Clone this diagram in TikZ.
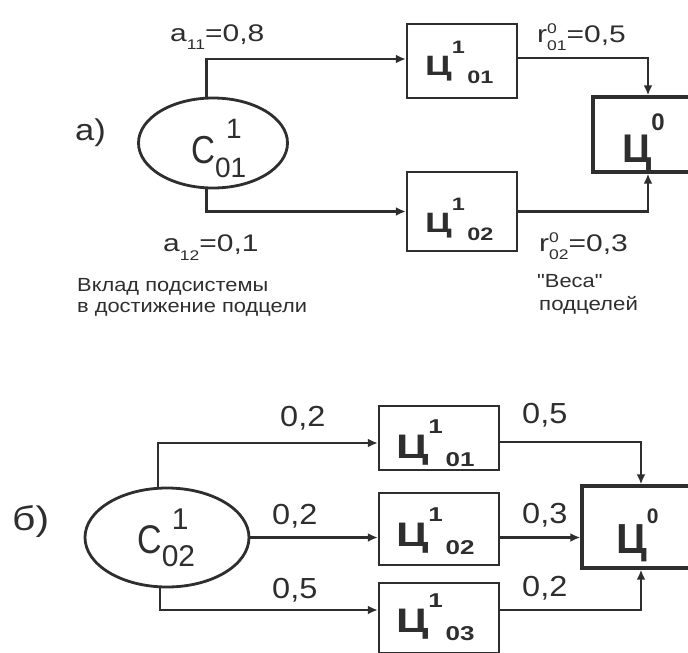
\documentclass[tikz,border=0pt]{standalone}
\usepackage{fontspec}
\setmainfont{Liberation Sans}
\usetikzlibrary{arrows.meta,calc,shapes.geometric}
\definecolor{ink}{HTML}{2E2E2E}
\newcommand\fs[1]{\fontsize{#1}{#1}\selectfont}
\newcommand\wide[2]{\scalebox{#1}[1]{#2}}
% goal label: #1 size of Ц, #2 index size, #3 raise, #4 lower, #5 sup, #6 sub
\newcommand\goalLabel[6]{\wide{1.3}{{\fs{#1}\bfseries Ц}\raisebox{#3}{\fs{#2}\bfseries #5}\hspace{2pt}\raisebox{-#4}{\fs{#2}\bfseries #6}}}
% system label: #1 size of C, #2 index size, #3 raise, #4 lower, #5 sup shift, #6 sup, #7 sub
\newcommand\sysLabel[7]{\wide{0.85}{\fs{#1}C}\rlap{\hspace{#5}\raisebox{#3}{\fs{#2}#6}}\raisebox{-#4}{\fs{#2}#7}}
\tikzset{
  goalbox/.style={draw=ink, line width=2.4pt, inner sep=0pt},
  topbox/.style={draw=ink, line width=3.4pt, inner sep=0pt},
  sysell/.style={draw=ink, line width=2.8pt, ellipse, inner sep=0pt},
  conn/.style={draw=ink, line width=2.3pt, -{Latex[length=10pt,width=9pt]}},
  txt/.style={text=ink, inner sep=0pt, anchor=base west},
}
\begin{document}
\begin{tikzpicture}[x=1pt,y=-1pt]
\useasboundingbox (0,0) rectangle (688,653);
\fill[white] (0,0) rectangle (688,653);

% ---------- part a) ----------
\node[sysell, minimum width=149pt, minimum height=90pt] (eA) at (213,143) {};
\node[goalbox, minimum width=110pt, minimum height=74pt] (A1) at (462,61) {};
\node[goalbox, minimum width=110pt, minimum height=79pt] (A2) at (462,211.5) {};
\node[topbox, minimum width=110pt, minimum height=75pt] (A0) at (648,134.5) {};

\draw[conn] (eA.98) |- ([yshift=2pt]A1.west);
\draw[conn] (eA.262) |- (A2.west);
\draw[conn] ([yshift=3pt]A1.east) -| (A0.north);
\draw[conn] (A2.east) -| (A0.south);

\node[txt] (la) at (75,140) {\wide{1.15}{\fs{30}a)}};
\node[txt] (teA) at (191,163) {\sysLabel{39}{28}{25pt}{14pt}{11pt}{1}{01}};
\node[txt] (tA1) at (425,75) {\goalLabel{28}{18}{22pt}{8pt}{1}{01}};
\node[txt] (tA2) at (425,232) {\goalLabel{28}{18}{22pt}{8pt}{1}{02}};
\node[txt] (tA0) at (622,162) {{\fs{40}\bfseries Ц}\raisebox{32pt}{\fs{24}\bfseries 0}};

\node[txt] (a11) at (170,41) {\wide{1.25}{\fs{24}a\raisebox{-8pt}{\fs{14}11}=0,8}};
\node[txt] (a12) at (163,251) {\wide{1.25}{\fs{24}a\raisebox{-9pt}{\fs{14}12}=0,1}};
\node[txt] (r01) at (537,42) {\wide{1.25}{\fs{24}r\rlap{\raisebox{9pt}{\fs{14}0}}\raisebox{-8pt}{\fs{14}01}=0,5}};
\node[txt] (r02) at (539,251) {\wide{1.25}{\fs{24}r\rlap{\raisebox{9pt}{\fs{14}0}}\raisebox{-8pt}{\fs{14}02}=0,3}};

\node[txt] (d1) at (77,291) {\wide{1.15}{\fs{19}Вклад подсистемы}};
\node[txt] (d2) at (77,312) {\wide{1.15}{\fs{19}в достижение подцели}};
\node[txt] (w1) at (537,287) {\wide{1.15}{\fs{19}\addfontfeatures{Ligatures=TeXOff}"Веса"}};
\node[txt] (w2) at (539,310) {\wide{1.17}{\fs{19}подцелей}};

% ---------- part b) ----------
\node[sysell, minimum width=164pt, minimum height=99pt] (eB) at (167,537.5) {};
\node[goalbox, minimum width=120pt, minimum height=64pt] (B1) at (439,438) {};
\node[goalbox, minimum width=120pt, minimum height=72pt] (B2) at (439,529) {};
\node[goalbox, minimum width=120pt, minimum height=70pt] (B3) at (439,618) {};
\node[topbox, minimum width=118pt, minimum height=82pt] (B0) at (641,527) {};

\draw[conn] (eB.100) |- ([yshift=-5pt]B1.west);
\draw[conn] (eB.east) -- (eB.east -| B2.west);
\draw[conn] (eB.262) |- ([yshift=8pt]B3.west);
\draw[conn] ([yshift=-4pt]B1.east) -| (B0.north);
\draw[conn] (B2.east |- eB.east) -- (B0.west |- eB.east);
\draw[conn] ([yshift=8pt]B3.east) -| (B0.south);

\node[txt] (lb) at (12,530) {\wide{1.2}{\fs{34}б)}};
\node[txt] (teB) at (137,553) {\sysLabel{40}{30}{24pt}{13pt}{10pt}{1}{02}};
\node[txt] (tB1) at (396,458) {\goalLabel{34}{20}{25pt}{8pt}{1}{01}};
\node[txt] (tB2) at (396,546) {\goalLabel{34}{20}{25pt}{8pt}{1}{02}};
\node[txt] (tB3) at (396,632) {\goalLabel{34}{20}{25pt}{8pt}{1}{03}};
\node[txt] (tB0) at (616,553) {{\fs{42}\bfseries Ц}\raisebox{30pt}{\fs{21}\bfseries 0}};

\node[txt] (k1) at (280,426) {\wide{1.12}{\fs{29}0,2}};
\node[txt] (k2) at (272,524) {\wide{1.12}{\fs{29}0,2}};
\node[txt] (k3) at (272,598) {\wide{1.12}{\fs{29}0,5}};
\node[txt] (k4) at (522,423) {\wide{1.12}{\fs{29}0,5}};
\node[txt] (k5) at (522,523) {\wide{1.12}{\fs{29}0,3}};
\node[txt] (k6) at (522,596) {\wide{1.12}{\fs{29}0,2}};
\end{tikzpicture}
\end{document}
